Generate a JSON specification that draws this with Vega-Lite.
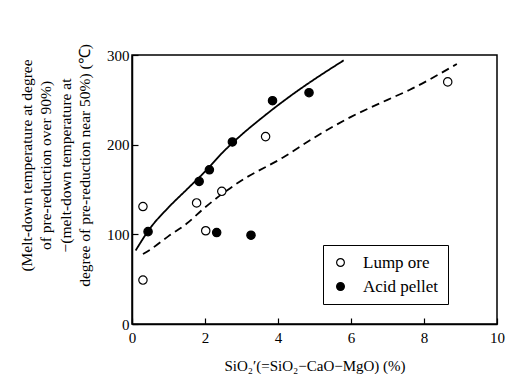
{
  "$schema": "https://vega.github.io/schema/vega-lite/v6.json",
  "width": 365,
  "height": 269,
  "autosize": {"type": "none"},
  "padding": {"left": 132, "top": 55, "right": 12, "bottom": 50},
  "background": "white",
  "config": {
    "font": "Liberation Serif",
    "view": {"stroke": "black", "strokeWidth": 1.5},
    "axis": {
      "domainColor": "black", "domainWidth": 1.5, "tickColor": "black", "tickWidth": 1.2,
      "labelColor": "black", "titleColor": "black", "grid": false,
      "labelFont": "Liberation Serif", "titleFont": "Liberation Serif",
      "labelFontSize": 15, "titleFontSize": 15, "titleFontWeight": "normal"
    }
  },
  "datasets": {
    "pts": [
      {"x": 0.3, "y": 131, "type": "Lump ore"},
      {"x": 0.3, "y": 49, "type": "Lump ore"},
      {"x": 1.77, "y": 135, "type": "Lump ore"},
      {"x": 2.46, "y": 148, "type": "Lump ore"},
      {"x": 2.02, "y": 104, "type": "Lump ore"},
      {"x": 3.66, "y": 209, "type": "Lump ore"},
      {"x": 8.65, "y": 270, "type": "Lump ore"},
      {"x": 0.44, "y": 103, "type": "Acid pellet"},
      {"x": 1.84, "y": 159, "type": "Acid pellet"},
      {"x": 2.12, "y": 172, "type": "Acid pellet"},
      {"x": 2.75, "y": 203, "type": "Acid pellet"},
      {"x": 3.85, "y": 249, "type": "Acid pellet"},
      {"x": 4.85, "y": 258, "type": "Acid pellet"},
      {"x": 2.32, "y": 102, "type": "Acid pellet"},
      {"x": 3.26, "y": 99, "type": "Acid pellet"}
    ],
    "curves": [
      {"x": 0.1, "y": 82, "curve": "solid"},
      {"x": 0.5, "y": 107, "curve": "solid"},
      {"x": 1.0, "y": 130, "curve": "solid"},
      {"x": 1.5, "y": 150, "curve": "solid"},
      {"x": 2.0, "y": 170, "curve": "solid"},
      {"x": 2.5, "y": 192, "curve": "solid"},
      {"x": 3.0, "y": 211, "curve": "solid"},
      {"x": 3.5, "y": 228, "curve": "solid"},
      {"x": 4.0, "y": 244, "curve": "solid"},
      {"x": 4.5, "y": 259, "curve": "solid"},
      {"x": 5.0, "y": 273, "curve": "solid"},
      {"x": 5.8, "y": 294, "curve": "solid"},
      {"x": 0.3, "y": 78, "curve": "dashed"},
      {"x": 0.5, "y": 83, "curve": "dashed"},
      {"x": 1.0, "y": 98, "curve": "dashed"},
      {"x": 1.5, "y": 112, "curve": "dashed"},
      {"x": 2.0, "y": 130, "curve": "dashed"},
      {"x": 2.6, "y": 149, "curve": "dashed"},
      {"x": 3.0, "y": 160, "curve": "dashed"},
      {"x": 4.15, "y": 186, "curve": "dashed"},
      {"x": 5.0, "y": 208, "curve": "dashed"},
      {"x": 6.0, "y": 231, "curve": "dashed"},
      {"x": 7.0, "y": 250, "curve": "dashed"},
      {"x": 7.6, "y": 261, "curve": "dashed"},
      {"x": 8.9, "y": 290, "curve": "dashed"}
    ]
  },
  "layer": [
    {
      "data": {"name": "curves"},
      "mark": {"type": "line", "interpolate": "monotone", "color": "black", "strokeWidth": 1.8},
      "encoding": {
        "x": {"field": "x", "type": "quantitative"},
        "y": {"field": "y", "type": "quantitative"},
        "detail": {"field": "curve"},
        "strokeDash": {"field": "curve", "type": "nominal", "scale": {"domain": ["solid", "dashed"], "range": [[1, 0], [8, 5]]}, "legend": null}
      }
    },
    {
      "data": {"name": "pts"},
      "mark": {"type": "point", "shape": "circle", "filled": true, "stroke": "black", "strokeWidth": 1.2, "size": 70, "opacity": 1},
      "encoding": {
        "x": {
          "field": "x", "type": "quantitative",
          "scale": {"domain": [0, 10], "nice": false},
          "axis": {"values": [0, 2, 4, 6, 8, 10], "tickSize": -6, "labelPadding": 12, "labelFlush": false,
                   "title": "SiO₂′(=SiO₂−CaO−MgO)  (%)", "titlePadding": 13}
        },
        "y": {
          "field": "y", "type": "quantitative",
          "scale": {"domain": [0, 300], "nice": false},
          "axis": {"values": [0, 100, 200, 300], "tickSize": -6, "labelPadding": 9, "labelFlush": false,
                   "title": ["(Melt-down temperature at degree", "of pre-reduction over 90%)", "−(melt-down temperature at", "degree of pre-reduction near 50%)  (℃)"],
                   "titleFontSize": 15.5, "titleLineHeight": 19.5, "titleAngle": -90, "titleAlign": "center", "titleBaseline": "top",
                   "titleX": -113, "titleY": 110}
        },
        "fill": {
          "field": "type", "type": "nominal",
          "scale": {"domain": ["Lump ore", "Acid pellet"], "range": ["white", "black"]},
          "legend": {
            "title": null, "orient": "none", "legendX": 191, "legendY": 190,
            "strokeColor": "black", "fillColor": "white", "padding": 9,
            "labelFont": "Liberation Serif",
            "labelFontSize": 17, "labelColor": "black",
            "symbolType": "circle", "symbolSize": 60, "symbolStrokeColor": "black", "symbolStrokeWidth": 1.2,
            "rowPadding": 6, "labelOffset": 14, "labelLimit": 200
          }
        }
      }
    }
  ]
}
